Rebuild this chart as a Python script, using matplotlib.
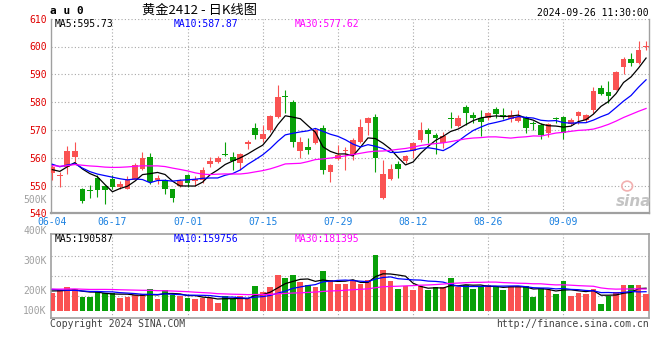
import matplotlib
matplotlib.use("Agg")
import matplotlib.pyplot as plt
import numpy as np
import pandas as pd
from matplotlib.patches import Ellipse

# ---------------- data ----------------
dates = ["06-04", "06-05", "06-06", "06-07", "06-11", "06-12", "06-13", "06-14", "06-17", "06-18",
         "06-19", "06-20", "06-21", "06-24", "06-25", "06-26", "06-27", "06-28", "07-01", "07-02",
         "07-03", "07-04", "07-05", "07-08", "07-09", "07-10", "07-11", "07-12", "07-15", "07-16",
         "07-17", "07-18", "07-19", "07-22", "07-23", "07-24", "07-25", "07-26", "07-29", "07-30",
         "07-31", "08-01", "08-02", "08-05", "08-06", "08-07", "08-08", "08-09", "08-12", "08-13",
         "08-14", "08-15", "08-16", "08-19", "08-20", "08-21", "08-22", "08-23", "08-26", "08-27",
         "08-28", "08-29", "08-30", "09-02", "09-03", "09-04", "09-05", "09-06", "09-09", "09-10",
         "09-11", "09-12", "09-13", "09-18", "09-19", "09-20", "09-23", "09-24", "09-25", "09-26"]

open_ = [554.5, 553.3, 556.5, 560.1, 548.9, 548.5, 552.7, 549.8, 552.5, 549.4,
         548.8, 552.1, 556.0, 560.3, 551.8, 552.1, 548.6, 550.0, 553.6, 551.5,
         552.0, 557.9, 558.3, 561.2, 560.2, 558.1, 564.9, 570.6, 566.7, 570.0,
         574.8, 582.3, 580.0, 562.3, 564.0, 565.2, 570.6, 554.8, 559.5, 562.3,
         561.0, 565.8, 572.4, 574.8, 545.6, 552.4, 557.9, 558.7, 562.3, 566.2,
         570.0, 568.2, 565.2, 574.2, 571.5, 578.1, 575.4, 574.2, 574.2, 577.4,
         575.2, 573.8, 573.3, 574.5, 572.3, 571.8, 569.0, 574.1, 574.5, 572.1,
         575.0, 573.6, 577.1, 584.9, 583.7, 584.5, 592.6, 595.6, 594.0, 600.0]
high = [557.7, 555.0, 564.3, 565.8, 549.0, 550.3, 553.9, 550.3, 553.7, 551.5,
        553.3, 558.0, 562.2, 561.8, 553.7, 552.3, 548.8, 552.2, 554.0, 553.5,
        556.6, 560.3, 560.7, 565.7, 562.0, 561.6, 566.4, 572.6, 571.8, 575.2,
        586.0, 584.3, 580.7, 567.6, 567.0, 570.6, 571.8, 557.8, 564.6, 564.0,
        567.2, 573.8, 574.8, 575.7, 559.3, 557.9, 558.7, 561.0, 565.8, 573.0,
        570.8, 569.0, 569.4, 576.5, 575.4, 578.9, 576.5, 577.1, 576.5, 578.3,
        577.7, 577.1, 577.1, 575.0, 573.3, 572.4, 572.4, 574.5, 575.0, 574.2,
        576.9, 575.6, 585.5, 586.1, 587.5, 591.2, 596.4, 597.6, 602.1, 602.1]
low = [552.0, 549.4, 554.0, 558.3, 543.6, 545.4, 545.8, 543.2, 548.8, 548.6,
       548.6, 551.9, 555.7, 550.6, 550.6, 546.8, 544.0, 549.3, 549.5, 550.0,
       551.0, 556.8, 558.0, 560.5, 555.5, 555.7, 563.1, 566.7, 565.8, 569.4,
       574.2, 576.0, 563.8, 559.9, 561.4, 565.0, 554.3, 551.2, 559.2, 555.5,
       559.3, 565.2, 568.2, 554.8, 545.2, 552.1, 552.6, 558.0, 559.9, 565.8,
       565.2, 561.4, 563.5, 570.6, 571.2, 571.8, 572.4, 567.9, 573.6, 574.2,
       573.8, 573.0, 573.0, 569.0, 570.0, 566.8, 567.4, 572.4, 566.8, 571.8,
       572.0, 573.0, 576.2, 582.5, 579.5, 584.3, 590.0, 592.9, 593.8, 598.6]
close = [556.5, 553.9, 562.3, 562.5, 544.6, 548.1, 548.3, 548.3, 549.4, 550.4,
         552.3, 557.5, 560.0, 551.1, 552.6, 548.6, 545.4, 551.5, 551.0, 552.5,
         555.7, 558.7, 560.0, 560.9, 558.7, 561.4, 565.7, 568.2, 568.6, 575.0,
         581.9, 581.7, 565.8, 565.7, 562.6, 570.0, 555.5, 557.5, 561.1, 562.7,
         566.4, 571.2, 574.2, 559.9, 554.3, 556.0, 556.1, 560.7, 565.2, 569.8,
         568.5, 567.0, 567.9, 574.0, 574.2, 576.2, 574.4, 572.7, 576.2, 575.7,
         575.0, 575.2, 574.5, 570.8, 572.0, 568.2, 572.0, 573.9, 569.0, 573.6,
         576.5, 575.4, 583.9, 582.9, 582.3, 590.7, 595.4, 594.0, 598.9, 600.2]
volume = [151600, 170900, 200400, 182700, 116200, 116200, 166700, 152400, 152400, 109500,
          115400, 128800, 140600, 182700, 96800, 174300, 130500, 122100, 111100, 99400,
          109500, 106900, 65700, 124600, 99400, 119600, 96800, 208000, 155800, 199600,
          300600, 275300, 300600, 244200, 214700, 200400, 334300, 258500, 224800, 224800,
          258500, 224800, 258500, 469000, 342700, 250100, 182700, 208000, 174300, 208000,
          174300, 199600, 199600, 275300, 199600, 216400, 182700, 208000, 216400, 199600,
          174300, 208000, 208000, 208000, 115400, 191100, 174300, 140600, 250100, 123800,
          149000, 140600, 182700, 56400, 123800, 157500, 216400, 216400, 216400, 140600]

# sessions before 06-04 (only feed the moving averages, estimated from the MA lines)
prior_close = [560, 556, 551, 552, 556, 553, 556, 553, 549, 548, 551, 554, 553, 552,
               556, 562, 566, 567, 573, 570, 563, 556, 558, 560, 561, 557, 554, 555, 556]
prior_volume = [190000, 170000, 160000, 185000, 175000, 165000, 150000, 180000, 170000, 160000,
                175000, 185000, 190000, 180000, 195000, 200000, 210000, 190000, 230000, 215000,
                205000, 240000, 185000, 170000, 160000, 165000, 180000, 160000, 175000]

price_ticks = [540, 550, 560, 570, 580, 590, 600, 610]
tick_dates = ["06-04", "06-17", "07-01", "07-15", "07-29", "08-12", "08-26", "09-09"]
ma_windows = [5, 10, 30]
price_ma_text = ["MA5:595.73", "MA10:587.87", "MA30:577.62"]
vol_ma_text = ["MA5:190587", "MA10:159756", "MA30:181395"]
vol_axis_labels = ["500K", "400K", "300K", "200K", "100K"]
title_text = "黄金2412 - 日K线图"
symbol_text = "a u 0"
time_text = "2024-09-26 11:30:00"

# ---------------- style ----------------
W, H = 660, 360
RED = "#fa5252"
GREEN = "#08a008"
MA_COLORS = ["#000000", "#0000ff", "#ff00ff"]
GRID = "#a8a8a8"
FRAME = "#a0a0a0"
MONO = "DejaVu Sans Mono"
CJK = ["Noto Sans CJK SC", "DejaVu Sans"]

fig = plt.figure(figsize=(W / 100, H / 100), dpi=100)
fig.patch.set_facecolor("white")


def rect(x0, y0, x1, y1):
    return [x0 / W, 1 - y1 / H, (x1 - x0) / W, (y1 - y0) / H]


def fx(x):
    return x / W


def fy(y):
    return 1 - y / H


ax = fig.add_axes(rect(50.7, 18.7, 649.3, 213.3))
axv = fig.add_axes(rect(50.7, 234.3, 649.3, 317.7))

n = len(close)
x = np.arange(n)
o = np.array(open_)
c = np.array(close)
hi = np.array(high)
lo = np.array(low)
v = np.array(volume)
cols = [RED if cc >= oo else GREEN for oo, cc in zip(o, c)]
XLIM = (-0.213, 79.43)

# ---- price panel ----
ax.vlines(x, lo, hi, colors=cols, lw=0.8, zorder=3)
body_lo = np.minimum(o, c)
body_h = np.maximum(np.abs(c - o), 0.35)
ax.bar(x, body_h, bottom=body_lo, width=0.76, color=cols, linewidth=0, zorder=3)

full_close = pd.Series(list(prior_close) + list(close))
for w, colr in zip(ma_windows, MA_COLORS):
    ma = full_close.rolling(w).mean().values[len(prior_close):]
    ax.plot(x, ma, color=colr, lw=0.9, zorder=4)

ax.set_xlim(*XLIM)
ax.set_ylim(price_ticks[0], price_ticks[-1])
for p in price_ticks[1:]:
    ax.axhline(p, color=GRID, lw=0.8, ls=(0, (1, 2)), zorder=1)

tick_idx = [dates.index(d) for d in tick_dates]
for t in tick_idx[1:]:
    ax.axvline(t, color=GRID, lw=0.8, ls=(0, (1, 2)), zorder=1)

ax.set_yticks(price_ticks)
ax.set_yticklabels([str(p) for p in price_ticks], color="#e00000", fontsize=7, family=MONO)
ax.set_xticks(tick_idx)
ax.set_xticklabels(tick_dates, color="#1a80e0", fontsize=7, family=MONO)
ax.tick_params(axis="y", length=0, pad=3)
ax.tick_params(axis="x", length=0, pad=3)
ax.spines["top"].set_visible(False)
for s in ["left", "right"]:
    ax.spines[s].set_color(FRAME)
    ax.spines[s].set_linewidth(1.0)
ax.spines["bottom"].set_color(FRAME)
ax.spines["bottom"].set_linewidth(1.6)

ma_x = [55, 174, 295]
for txt, colr, xx in zip(price_ma_text, MA_COLORS, ma_x):
    fig.text(fx(xx), fy(23.7), txt, color=colr, fontsize=7, family=MONO, va="center", ha="left")

# watermark
fig.text(fx(651), fy(201), "sina", color="#c4c4c4", fontsize=11, fontstyle="italic",
         fontweight="bold", ha="right", va="center")
ax.add_patch(Ellipse((0.963, 0.14), 0.018, 0.05, transform=ax.transAxes, fill=False,
                     edgecolor="#f2b0b0", lw=1.2, zorder=2))

# ---- volume panel ----
VOL_PER_PX = 8420.0
BASE_PX, TOP_PX, BOT_PX = 310.7, 234.3, 317.7
axv.bar(x, v, width=0.76, color=cols, linewidth=0, zorder=3)
full_vol = pd.Series(list(prior_volume) + list(volume), dtype=float)
for w, colr in zip(ma_windows, MA_COLORS):
    ma = full_vol.rolling(w).mean().values[len(prior_volume):]
    axv.plot(x, ma, color=colr, lw=0.9, zorder=4)
axv.set_xlim(*XLIM)
axv.set_ylim(-(BOT_PX - BASE_PX) * VOL_PER_PX, (BASE_PX - TOP_PX) * VOL_PER_PX)
for gpx in [255.7, 275.7, 295.7]:
    axv.axhline((BASE_PX - gpx) * VOL_PER_PX, color=GRID, lw=0.8, ls=(0, (1, 2)), zorder=1)
for t in tick_idx[1:]:
    axv.axvline(t, color=GRID, lw=0.8, ls=(0, (1, 2)), zorder=1)
axv.set_xticks([])
axv.set_yticks([])
for s in axv.spines.values():
    s.set_color(FRAME)
    s.set_linewidth(1.2)

for txt, colr, xx in zip(vol_ma_text, MA_COLORS, ma_x):
    fig.text(fx(xx), fy(238.5), txt, color=colr, fontsize=7, family=MONO, va="center", ha="left")

for lab, ypx in zip(vol_axis_labels, [200.0, 230.7, 260.7, 290.7, 310.7]):
    fig.text(fx(46.5), fy(ypx), lab, color="#a0a0a0", fontsize=7, family=MONO, ha="right", va="center")

# ---- header / footer ----
fig.text(fx(50), fy(10.5), symbol_text, color="black", fontsize=8, family=MONO,
         fontweight="bold", ha="left", va="center")
fig.text(fx(200), fy(10), title_text, color="black", fontsize=9.5, family=CJK, ha="center", va="center")
fig.text(fx(649), fy(12.7), time_text, color="black", fontsize=7, family=MONO, ha="right", va="center")
fig.text(fx(50), fy(324), "Copyright 2024 SINA.COM", color="#404040", fontsize=7, family=MONO,
         ha="left", va="center")
fig.text(fx(649), fy(324), "http://finance.sina.com.cn", color="#404040", fontsize=7, family=MONO,
         ha="right", va="center")

fig.savefig("out.png", dpi=100, facecolor="white")
